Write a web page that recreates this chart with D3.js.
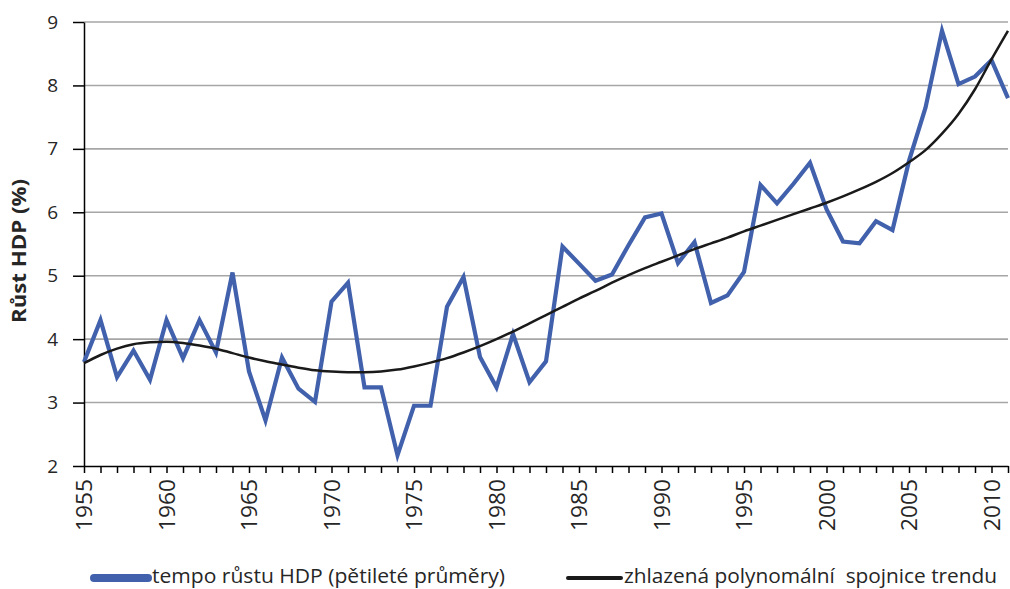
<!DOCTYPE html>
<html>
<head>
<meta charset="utf-8">
<script src="https://cdn.jsdelivr.net/npm/d3@7/dist/d3.min.js"></script>
<style>
  body { margin: 0; background: #fff; }
  svg { display: block; }
  text { font-family: "Open Sans", sans-serif; fill: #262626; }
</style>
</head>
<body>
<svg id="chart" width="1010" height="589"></svg>
<script>
// ==========================================
// DATA
// ==========================================
const years = d3.range(1955, 2012);

// tempo růstu HDP (pětileté průměry)
const growth = [
  3.64, 4.30, 3.40, 3.82, 3.36, 4.30, 3.70, 4.30, 3.79, 5.05,
  3.49, 2.72, 3.71, 3.22, 3.01, 4.59, 4.89, 3.24, 3.24, 2.17,
  2.95, 2.95, 4.51, 4.98, 3.72, 3.24, 4.08, 3.32, 3.65, 5.46,
  5.19, 4.92, 5.02, 5.48, 5.92, 5.98, 5.20, 5.53, 4.57, 4.69,
  5.06, 6.43, 6.14, 6.45, 6.78, 6.05, 5.54, 5.51, 5.86, 5.72,
  6.81, 7.65, 8.86, 8.02, 8.14, 8.40, 7.80
];

// zhlazená polynomální spojnice trendu
const trend = [
  3.62, 3.75, 3.85, 3.92, 3.95, 3.96, 3.94, 3.90, 3.85, 3.78,
  3.71, 3.65, 3.60, 3.55, 3.51, 3.49, 3.48, 3.48, 3.49, 3.52,
  3.57, 3.63, 3.70, 3.79, 3.89, 4.00, 4.12, 4.25, 4.38, 4.51,
  4.64, 4.76, 4.89, 5.01, 5.12, 5.22, 5.32, 5.42, 5.51, 5.60,
  5.70, 5.79, 5.88, 5.97, 6.06, 6.15, 6.25, 6.36, 6.48, 6.62,
  6.79, 6.98, 7.24, 7.55, 7.94, 8.41, 8.86
];

const yTicks = [2, 3, 4, 5, 6, 7, 8, 9];
const xLabelYears = [1955, 1960, 1965, 1970, 1975, 1980, 1985, 1990, 1995, 2000, 2005, 2010];

const seriesNames = ['tempo růstu HDP (pětileté průměry)', 'zhlazená polynomální  spojnice trendu'];
const yTitle = 'Růst HDP (%)';

const BLUE = '#4261ac';
const BLACK = '#1a1a1a';

// ==========================================
// LAYOUT & SCALES
// ==========================================
const svg = d3.select('#chart');
const plotLeft = 84, plotRight = 1008, plotTop = 22, plotBottom = 466;

const x = d3.scaleLinear().domain([1955, 2011]).range([plotLeft, plotRight]);
const y = d3.scaleLinear().domain([2, 9]).range([plotBottom, plotTop]);

// gridlines
svg.append('g')
  .selectAll('line')
  .data(yTicks.filter(d => d > 2))
  .enter()
  .append('line')
  .attr('x1', plotLeft)
  .attr('x2', plotRight)
  .attr('y1', d => y(d))
  .attr('y2', d => y(d))
  .attr('stroke', '#a6a6a6')
  .attr('stroke-width', 1.6);

// y axis
const yAxis = svg.append('g')
  .attr('transform', `translate(${plotLeft},0)`)
  .call(d3.axisLeft(y)
    .tickValues(yTicks)
    .tickFormat(d3.format('d'))
    .tickSize(11)
    .tickPadding(15)
    .tickSizeOuter(0));
yAxis.select('.domain').attr('stroke', '#000').attr('stroke-width', 1.5);
yAxis.selectAll('.tick line').attr('stroke', '#000').attr('stroke-width', 1.5);
yAxis.selectAll('.tick text')
  .style('font-family', '"Open Sans", sans-serif')
  .style('font-size', '19px')
  .attr('fill', '#262626');

// x axis: a tick for every year, labels every 5 years
const xAxis = svg.append('g')
  .attr('transform', `translate(0,${plotBottom})`)
  .call(d3.axisBottom(x).tickValues(years).tickSize(7).tickFormat('').tickSizeOuter(0));
xAxis.select('.domain').attr('stroke', '#000').attr('stroke-width', 1.5);
xAxis.selectAll('.tick line').attr('stroke', '#000').attr('stroke-width', 1.5);

svg.append('g')
  .selectAll('text')
  .data(xLabelYears)
  .enter()
  .append('text')
  .attr('transform', d => `translate(${x(d) + 8},${plotBottom + 13}) rotate(-90)`)
  .attr('text-anchor', 'end')
  .attr('textLength', 52)
  .attr('lengthAdjust', 'spacingAndGlyphs')
  .style('font-size', '22px')
  .text(d => d);

// y axis title
svg.append('text')
  .attr('transform', `translate(26,251) rotate(-90)`)
  .attr('text-anchor', 'middle')
  .attr('textLength', 144)
  .attr('lengthAdjust', 'spacingAndGlyphs')
  .style('font-size', '20px')
  .style('font-weight', 'bold')
  .text(yTitle);

// ==========================================
// LINES
// ==========================================
const growthLine = d3.line()
  .x((d, i) => x(years[i]))
  .y(d => y(d));

const trendLine = d3.line()
  .x((d, i) => x(years[i]))
  .y(d => y(d))
  .curve(d3.curveMonotoneX);

svg.append('path')
  .datum(growth)
  .attr('d', growthLine)
  .attr('fill', 'none')
  .attr('stroke', BLUE)
  .attr('stroke-width', 4.2)
  .attr('stroke-linejoin', 'miter');

svg.append('path')
  .datum(trend)
  .attr('d', trendLine)
  .attr('fill', 'none')
  .attr('stroke', BLACK)
  .attr('stroke-width', 2.5);

// ==========================================
// LEGEND
// ==========================================
const legendY = 578;
const legend = [
  { name: seriesNames[0], color: BLUE, width: 8, x1: 94, x2: 148, tx: 152, len: 353 },
  { name: seriesNames[1], color: BLACK, width: 4, x1: 568, x2: 621, tx: 624, len: 373 }
];

const lg = svg.append('g')
  .selectAll('g')
  .data(legend)
  .enter()
  .append('g');

lg.append('line')
  .attr('x1', d => d.x1)
  .attr('x2', d => d.x2)
  .attr('y1', legendY)
  .attr('y2', legendY)
  .attr('stroke', d => d.color)
  .attr('stroke-width', d => d.width)
  .attr('stroke-linecap', 'round');

lg.append('text')
  .attr('x', d => d.tx)
  .attr('y', legendY + 5)
  .attr('textLength', d => d.len)
  .attr('lengthAdjust', 'spacingAndGlyphs')
  .style('font-size', '20px')
  .style('white-space', 'pre')
  .text(d => d.name);
</script>
</body>
</html>
